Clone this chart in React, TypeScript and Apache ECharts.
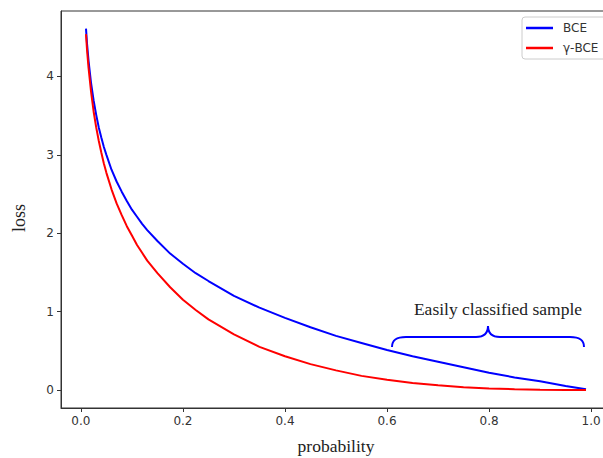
import React, { useEffect, useRef } from "react";
import * as echarts from "echarts";

const probability = [0.01, 0.012, 0.015, 0.02, 0.025, 0.03, 0.035, 0.04, 0.045, 0.05, 0.06, 0.07, 0.08, 0.09, 0.1, 0.11, 0.12, 0.13, 0.15, 0.175, 0.2, 0.225, 0.25, 0.3, 0.35, 0.4, 0.45, 0.5, 0.55, 0.6, 0.65, 0.7, 0.75, 0.8, 0.85, 0.9, 0.95, 0.99];
const bceLoss = [4.61, 4.42, 4.2, 3.91, 3.69, 3.51, 3.35, 3.22, 3.1, 3.0, 2.81, 2.66, 2.53, 2.41, 2.3, 2.21, 2.12, 2.04, 1.9, 1.74, 1.61, 1.49, 1.39, 1.2, 1.05, 0.92, 0.8, 0.69, 0.6, 0.51, 0.43, 0.36, 0.29, 0.22, 0.16, 0.11, 0.05, 0.01];
const gammaBceLoss = [4.54, 4.34, 4.11, 3.8, 3.55, 3.35, 3.18, 3.03, 2.89, 2.77, 2.56, 2.38, 2.23, 2.09, 1.97, 1.85, 1.75, 1.65, 1.49, 1.31, 1.15, 1.02, 0.9, 0.71, 0.55, 0.43, 0.33, 0.25, 0.18, 0.13, 0.089, 0.059, 0.036, 0.02, 0.0095, 0.0033, 0.0006, 0.0];
const xTicks = [0, 0.2, 0.4, 0.6, 0.8, 1.0];
const yTicks = [0, 1, 2, 3, 4];
const seriesNames = ["BCE", "γ-BCE"];
const annotationText = "Easily classified sample";

const BRACE_D =
  "M0,21 C0,14 4,11 14,11 L84,11 C91,11 96,8 96,0 C96,8 101,11 108,11 L178,11 C188,11 192,14 192,21";
let braceRegistered = false;

export default function App() {
  const ref = useRef<HTMLDivElement>(null);
  useEffect(() => {
    document.body.style.margin = "0";
    if (!braceRegistered) {
      echarts.graphic.registerShape("brace", echarts.graphic.extendPath(BRACE_D, {}) as any);
      braceRegistered = true;
    }
    const chart = echarts.init(ref.current!, null, { renderer: "svg" });
    const labelFont = { fontFamily: "DejaVu Sans", fontSize: 12, color: "#333" };
    chart.setOption({
      animation: false,
      backgroundColor: "#fff",
      grid: {
        left: 61,
        top: 11,
        width: 550,
        height: 397,
        outerBoundsMode: "none",
        show: true,
        borderColor: "#333",
        borderWidth: 1,
      },
      legend: {
        orient: "vertical",
        left: 522,
        top: 17,
        data: seriesNames,
        icon: "rect",
        itemWidth: 27,
        itemHeight: 2.5,
        itemGap: 8,
        padding: [5, 40, 5, 4],
        borderColor: "#ccc",
        borderWidth: 1,
        borderRadius: 3,
        backgroundColor: "rgba(255,255,255,0.8)",
        textStyle: { fontFamily: "DejaVu Sans", fontSize: 12, color: "#333", padding: [0, 0, 0, 5] },
      },
      xAxis: {
        type: "value",
        min: -0.039,
        max: 1.039,
        name: "probability",
        nameLocation: "middle",
        nameGap: 29,
        nameTextStyle: { fontFamily: "Liberation Serif", fontSize: 17.5, color: "#222" },
        splitLine: { show: false },
        axisLine: { show: true, onZero: false, lineStyle: { color: "#333", width: 1 } },
        axisTick: { show: true, length: 4, lineStyle: { color: "#333" }, customValues: xTicks },
        axisLabel: {
          ...labelFont,
          margin: 7,
          customValues: xTicks,
          formatter: (v: number) => v.toFixed(1),
        },
      },
      yAxis: {
        type: "value",
        min: -0.23,
        max: 4.835,
        splitLine: { show: false },
        axisLine: { show: true, onZero: false, lineStyle: { color: "#333", width: 1 } },
        axisTick: { show: true, length: 4, lineStyle: { color: "#333" }, customValues: yTicks },
        axisLabel: {
          ...labelFont,
          margin: 7,
          customValues: yTicks,
          formatter: (v: number) => String(Math.round(v)),
        },
      },
      series: [
        {
          name: seriesNames[0],
          type: "line",
          data: probability.map((p, i) => [p, bceLoss[i]]),
          showSymbol: false,
          smooth: false,
          lineStyle: { color: "#0000ff", width: 2 },
          itemStyle: { color: "#0000ff" },
        },
        {
          name: seriesNames[1],
          type: "line",
          data: probability.map((p, i) => [p, gammaBceLoss[i]]),
          showSymbol: false,
          smooth: false,
          lineStyle: { color: "#ff0000", width: 2 },
          itemStyle: { color: "#ff0000" },
        },
      ],
      graphic: [
        {
          type: "text",
          x: 19,
          y: 218,
          rotation: Math.PI / 2,
          style: {
            text: "loss",
            font: "18px 'Liberation Serif'",
            fill: "#222",
            align: "center",
            verticalAlign: "middle",
          },
        },
        {
          type: "text",
          x: 498,
          y: 309,
          style: {
            text: annotationText,
            font: "17.5px 'Liberation Serif'",
            fill: "#222",
            align: "center",
            verticalAlign: "middle",
          },
        },
        {
          type: "brace",
          x: 392,
          y: 326,
          scaleX: 1,
          scaleY: 1,
          style: { stroke: "#0000ff", fill: "none", lineWidth: 2 },
        },
      ],
    });
    return () => chart.dispose();
  }, []);
  return <div ref={ref} style={{ width: 603, height: 458 }} />;
}
